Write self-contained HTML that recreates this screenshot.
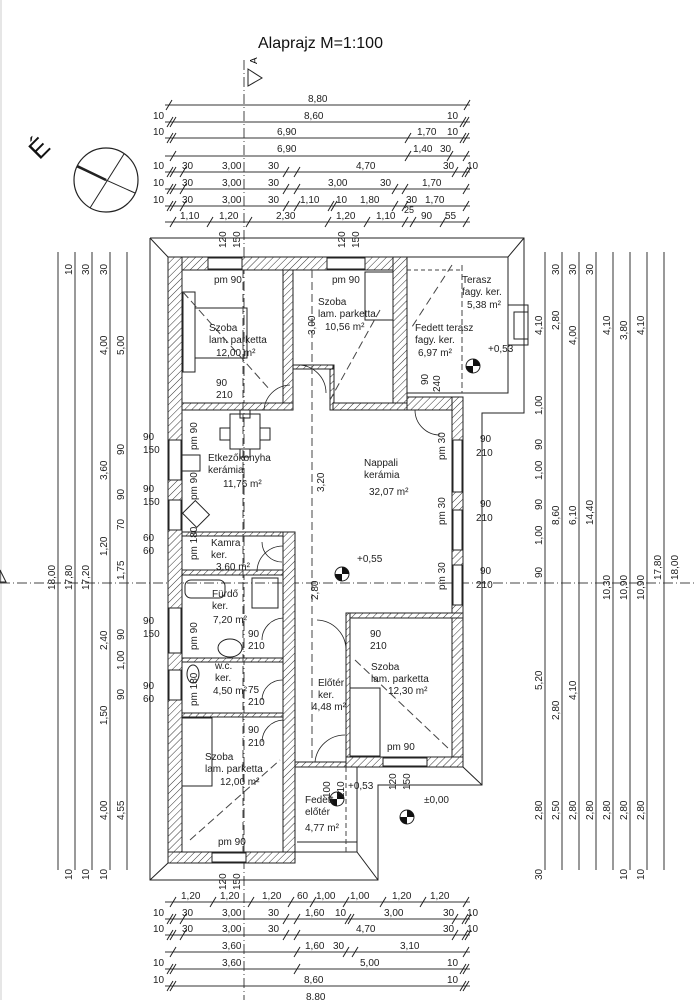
<!DOCTYPE html>
<html><head><meta charset="utf-8">
<style>
html,body{margin:0;padding:0;background:#fff;}
svg{display:block;font-family:"Liberation Sans",sans-serif;}
.d{font-size:10px;fill:#222;}
.r{font-size:10px;fill:#222;}
</style></head><body>
<svg width="696" height="1000" viewBox="0 0 696 1000" xmlns="http://www.w3.org/2000/svg">
<defs>
<pattern id="h" patternUnits="userSpaceOnUse" width="5" height="5" patternTransform="rotate(45)">
<rect width="5" height="5" fill="#fff"/><line x1="0" y1="0" x2="0" y2="5" stroke="#333" stroke-width="1"/>
</pattern>
</defs>
<rect x="0" y="0" width="696" height="1000" fill="#fff"/>
<line x1="1" y1="0" x2="1" y2="1000" stroke="#ccc"/>
<text x="258" y="48" font-size="16" fill="#111">Alaprajz  M=1:100</text>
<!-- section mark -->
<line x1="244" y1="60" x2="244" y2="1000" stroke="#444" stroke-width="1" stroke-dasharray="10,3,1,3"/>
<polygon points="248,69 262,78 248,86" fill="none" stroke="#222"/>
<text font-size="10" transform="translate(257,64) rotate(-90)">A</text>
<line x1="0" y1="583" x2="696" y2="583" stroke="#444" stroke-dasharray="10,3,1,3"/>
<polygon points="0,570 6,582 0,582" fill="none" stroke="#222"/>
<!-- compass -->
<circle cx="106" cy="180" r="32" fill="none" stroke="#222" stroke-width="1.2"/>
<line x1="77" y1="167" x2="135" y2="193" stroke="#222" stroke-width="1"/>
<line x1="77" y1="166" x2="106" y2="180" stroke="#222" stroke-width="2.5"/>
<line x1="124" y1="154" x2="90" y2="208" stroke="#222"/>
<text x="30" y="152" font-size="26" fill="#111" transform="rotate(-45 45 145)">É</text>

<!-- roof outline -->
<polyline points="150,238 524,238 524,413 482,413 482,785 378,785 378,880 150,880 150,238" fill="none" stroke="#222" stroke-width="1"/>
<line x1="150" y1="238" x2="168" y2="257" stroke="#222"/>
<line x1="150" y1="880" x2="168" y2="863" stroke="#222"/>
<line x1="524" y1="238" x2="508" y2="257" stroke="#222"/>
<line x1="482" y1="785" x2="463" y2="767" stroke="#222"/>
<line x1="378" y1="880" x2="357" y2="852" stroke="#222"/>

<!-- terrace -->
<rect x="407" y="257" width="101" height="136" fill="none" stroke="#222"/>
<line x1="407" y1="270" x2="460" y2="270" stroke="#444" stroke-dasharray="4,3"/>
<rect x="508" y="305" width="20" height="40" fill="none" stroke="#222"/>
<rect x="514" y="312" width="14" height="27" fill="none" stroke="#222"/>
<line x1="462" y1="265" x2="462" y2="393" stroke="#444" stroke-dasharray="6,3"/>
<line x1="452" y1="265" x2="410" y2="330" stroke="#444" stroke-dasharray="8,5"/>
<!-- fedett előtér -->
<rect x="295" y="767" width="62" height="85" fill="none" stroke="#222"/>
<line x1="297" y1="842" x2="357" y2="842" stroke="#222"/>
<line x1="346" y1="767" x2="346" y2="852" stroke="#444" stroke-dasharray="5,3"/>

<!-- walls -->
<g fill="url(#h)" stroke="#222" stroke-width="1">
<rect x="168" y="257" width="239" height="13"/>
<rect x="168" y="257" width="14" height="606"/>
<rect x="283" y="270" width="10" height="133"/>
<rect x="393" y="257" width="14" height="146"/>
<rect x="182" y="403" width="111" height="7"/>
<rect x="330" y="365" width="4" height="45"/>
<rect x="333" y="403" width="74" height="7"/>
<rect x="407" y="397" width="56" height="13"/>
<rect x="452" y="397" width="11" height="370"/>
<rect x="182" y="532" width="111" height="4"/>
<rect x="182" y="570" width="111" height="5"/>
<rect x="283" y="532" width="12" height="331"/>
<rect x="182" y="658" width="101" height="4"/>
<rect x="182" y="713" width="101" height="4"/>
<rect x="168" y="852" width="127" height="11"/>
<rect x="346" y="613" width="117" height="5"/>
<rect x="346" y="613" width="4" height="154"/>
<rect x="346" y="757" width="117" height="10"/>
<rect x="295" y="762" width="51" height="5"/>
<rect x="293" y="365" width="40" height="4"/>
</g>
<!-- window openings (white gaps) -->
<g fill="#fff" stroke="#222">
<rect x="208" y="258" width="34" height="11"/>
<rect x="327" y="258" width="38" height="11"/>
<rect x="453" y="440" width="9" height="52"/>
<rect x="453" y="510" width="9" height="40"/>
<rect x="453" y="565" width="9" height="40"/>
<rect x="169" y="440" width="12" height="40"/>
<rect x="169" y="500" width="12" height="30"/>
<rect x="169" y="608" width="12" height="45"/>
<rect x="169" y="670" width="12" height="30"/>
<rect x="212" y="853" width="34" height="9"/>
<rect x="383" y="758" width="44" height="8"/>
</g>

<!-- furniture -->
<g fill="none" stroke="#222" stroke-width="1">
<rect x="195" y="308" width="52" height="50"/>
<rect x="183" y="292" width="12" height="80"/>
<rect x="365" y="272" width="28" height="48"/>
<rect x="230" y="414" width="30" height="35"/>
<rect x="220" y="428" width="10" height="12"/><rect x="260" y="428" width="10" height="12"/>
<rect x="240" y="410" width="10" height="8"/><rect x="240" y="449" width="10" height="8"/>
<rect x="182" y="455" width="18" height="16"/>
<rect x="186" y="505" width="20" height="18" transform="rotate(45 196 514)"/>
<rect x="185" y="580" width="40" height="18" rx="6"/>
<rect x="252" y="578" width="26" height="30"/>
<ellipse cx="230" cy="648" rx="12" ry="9"/>
<ellipse cx="193" cy="674" rx="6" ry="9"/>
<rect x="182" y="718" width="30" height="68"/>
<rect x="350" y="688" width="30" height="68"/>
</g>
<!-- doors -->
<g fill="none" stroke="#222" stroke-width="0.8">
<path d="M264 410 A27 27 0 0 1 290 385"/>
<path d="M298 365 A28 28 0 0 1 326 393"/>
<path d="M415 410 A25 25 0 0 0 440 435"/>
<path d="M257 572 A26 26 0 0 1 283 546"/>
<path d="M262 640 A22 22 0 0 1 283 618"/>
<path d="M262 700 A20 20 0 0 1 283 680"/>
<path d="M262 742 A22 22 0 0 1 283 720"/>
<path d="M317 620 A30 30 0 0 1 346 650"/>
<path d="M315 762 A30 30 0 0 1 345 735"/>
<path d="M282 562 A20 20 0 0 1 262 542"/>
</g>
<!-- dashed axes inside -->
<g stroke="#444" stroke-dasharray="8,4" fill="none">
<line x1="243" y1="270" x2="243" y2="852"/>
<line x1="312" y1="270" x2="312" y2="760"/>
<line x1="183" y1="292" x2="270" y2="390"/>
<line x1="380" y1="310" x2="330" y2="400"/>
<line x1="355" y1="660" x2="450" y2="750"/>
<line x1="190" y1="840" x2="280" y2="760"/>
</g>
<!-- level markers -->
<g>
<circle cx="342" cy="574" r="7" fill="#fff" stroke="#222"/><path d="M342 567 A7 7 0 0 1 349 574 L342 574Z M342 581 A7 7 0 0 1 335 574 L342 574Z" fill="#111"/>
<circle cx="473" cy="366" r="7" fill="#fff" stroke="#222"/><path d="M473 359 A7 7 0 0 1 480 366 L473 366Z M473 373 A7 7 0 0 1 466 366 L473 366Z" fill="#111"/>
<circle cx="337" cy="799" r="7" fill="#fff" stroke="#222"/><path d="M337 792 A7 7 0 0 1 344 799 L337 799Z M337 806 A7 7 0 0 1 330 799 L337 799Z" fill="#111"/>
<circle cx="407" cy="817" r="7" fill="#fff" stroke="#222"/><path d="M407 810 A7 7 0 0 1 414 817 L407 817Z M407 824 A7 7 0 0 1 400 817 L407 817Z" fill="#111"/>
</g>

<!-- room labels -->
<g class="r">
<text x="214" y="283">pm 90</text><text x="332" y="283">pm 90</text>
<text x="209" y="331">Szoba</text><text x="209" y="343">lam. parketta</text><text x="216" y="356">12,00 m²</text>
<text x="318" y="305">Szoba</text><text x="318" y="317">lam. parketta</text><text x="325" y="330">10,56 m²</text>
<text x="462" y="283">Terasz</text><text x="462" y="295">fagy. ker.</text><text x="467" y="308">5,38 m²</text>
<text x="415" y="331">Fedett terasz</text><text x="415" y="343">fagy. ker.</text><text x="418" y="356">6,97 m²</text>
<text x="488" y="352">+0,53</text>
<text x="208" y="461">Etkezőkonyha</text><text x="208" y="473">kerámia</text><text x="223" y="487">11,76 m²</text>
<text x="364" y="466">Nappali</text><text x="364" y="478">kerámia</text><text x="369" y="495">32,07 m²</text>
<text x="357" y="562">+0,55</text>
<text x="211" y="546">Kamra</text><text x="211" y="558">ker.</text><text x="216" y="570">3,60 m²</text>
<text x="212" y="597">Fürdő</text><text x="212" y="609">ker.</text><text x="213" y="623">7,20 m²</text>
<text x="215" y="669">w.c.</text><text x="215" y="681">ker.</text><text x="213" y="694">4,50 m²</text>
<text x="318" y="686">Előtér</text><text x="318" y="698">ker.</text><text x="312" y="710">4,48 m²</text>
<text x="371" y="670">Szoba</text><text x="371" y="682">lam. parketta</text><text x="388" y="694">12,30 m²</text>
<text x="205" y="760">Szoba</text><text x="205" y="772">lam. parketta</text><text x="220" y="785">12,00 m²</text>
<text x="305" y="803">Fedett</text><text x="305" y="815">előtér</text><text x="305" y="831">4,77 m²</text>
<text x="348" y="789">+0,53</text><text x="424" y="803">±0,00</text>
<text x="218" y="845">pm 90</text><text x="387" y="750">pm 90</text>
<text x="216" y="386">90</text><text x="216" y="398">210</text>
<text x="480" y="442">90</text><text x="476" y="456">210</text>
<text x="480" y="507">90</text><text x="476" y="521">210</text>
<text x="480" y="574">90</text><text x="476" y="588">210</text>
<text x="248" y="637">90</text><text x="248" y="649">210</text>
<text x="248" y="693">75</text><text x="248" y="705">210</text>
<text x="248" y="733">90</text><text x="248" y="746">210</text>
<text x="370" y="637">90</text><text x="370" y="649">210</text>
<text x="143" y="440">90</text><text x="143" y="453">150</text>
<text x="143" y="492">90</text><text x="143" y="505">150</text>
<text x="143" y="541">60</text><text x="143" y="554">60</text>
<text x="143" y="624">90</text><text x="143" y="637">150</text>
<text x="143" y="689">90</text><text x="143" y="702">60</text>
</g>
<g class="r">
<text transform="translate(226,248) rotate(-90)">120</text><text transform="translate(240,248) rotate(-90)">150</text>
<text transform="translate(345,248) rotate(-90)">120</text><text transform="translate(359,248) rotate(-90)">150</text>
<text transform="translate(226,890) rotate(-90)">120</text><text transform="translate(240,890) rotate(-90)">150</text>
<text transform="translate(396,790) rotate(-90)">120</text><text transform="translate(410,790) rotate(-90)">150</text>
<text transform="translate(197,450) rotate(-90)">pm 90</text>
<text transform="translate(197,500) rotate(-90)">pm 90</text>
<text transform="translate(197,560) rotate(-90)">pm 180</text>
<text transform="translate(197,650) rotate(-90)">pm 90</text>
<text transform="translate(197,706) rotate(-90)">pm 180</text>
<text transform="translate(445,460) rotate(-90)">pm 30</text>
<text transform="translate(445,525) rotate(-90)">pm 30</text>
<text transform="translate(445,590) rotate(-90)">pm 30</text>
<text transform="translate(315,335) rotate(-90)">3,00</text>
<text transform="translate(318,600) rotate(-90)">2,80</text>
<text transform="translate(324,492) rotate(-90)">3,20</text>
<text transform="translate(428,385) rotate(-90)">90</text><text transform="translate(440,392) rotate(-90)">240</text>
<text transform="translate(330,798) rotate(-90)">100</text><text transform="translate(344,798) rotate(-90)">210</text>
</g>

<!-- dimension lines -->
<g stroke="#333" stroke-width="1">
<line x1="165" y1="105" x2="470" y2="105"/>
<line x1="165" y1="122" x2="470" y2="122"/>
<line x1="165" y1="138" x2="470" y2="138"/>
<line x1="165" y1="156" x2="470" y2="156"/>
<line x1="165" y1="172" x2="470" y2="172"/>
<line x1="165" y1="189" x2="470" y2="189"/>
<line x1="165" y1="206" x2="470" y2="206"/>
<line x1="165" y1="222" x2="470" y2="222"/>
<line x1="165" y1="902" x2="470" y2="902"/>
<line x1="165" y1="919" x2="470" y2="919"/>
<line x1="165" y1="935" x2="470" y2="935"/>
<line x1="165" y1="952" x2="470" y2="952"/>
<line x1="165" y1="969" x2="470" y2="969"/>
<line x1="165" y1="986" x2="470" y2="986"/>
<line x1="58" y1="252" x2="58" y2="870"/>
<line x1="75" y1="252" x2="75" y2="870"/>
<line x1="92" y1="252" x2="92" y2="870"/>
<line x1="110" y1="252" x2="110" y2="870"/>
<line x1="127" y1="252" x2="127" y2="870"/>
<line x1="545" y1="252" x2="545" y2="870"/>
<line x1="562" y1="252" x2="562" y2="870"/>
<line x1="579" y1="252" x2="579" y2="870"/>
<line x1="596" y1="252" x2="596" y2="870"/>
<line x1="613" y1="252" x2="613" y2="870"/>
<line x1="630" y1="252" x2="630" y2="870"/>
<line x1="647" y1="252" x2="647" y2="870"/>
<line x1="664" y1="252" x2="664" y2="870"/>
</g>
<!-- ticks -->
<g stroke="#222" stroke-width="1">
<path d="M166 110L172 100 M464 110L470 100 M167 127L173 117 M170 127L176 117 M460 127L466 117 M463 127L469 117 M167 143L173 133 M170 143L176 133 M460 143L466 133 M463 143L469 133 M405 143L411 133 M170 161L176 151 M405 161L411 151 M447 161L453 151 M463 161L469 151"/>
<path d="M167 177L173 167 M170 177L176 167 M180 177L186 167 M283 177L289 167 M294 177L300 167 M452 177L458 167 M462 177L468 167 M465 177L471 167"/>
<path d="M167 194L173 184 M170 194L176 184 M180 194L186 184 M283 194L289 184 M294 194L300 184 M392 194L398 184 M402 194L408 184 M463 194L469 184"/>
<path d="M167 211L173 201 M170 211L176 201 M180 211L186 201 M283 211L289 201 M294 211L300 201 M328 211L334 201 M331 211L337 201 M392 211L398 201 M402 211L408 201 M463 211L469 201"/>
<path d="M170 227L176 217 M207 227L213 217 M246 227L252 217 M325 227L331 217 M364 227L370 217 M402 227L408 217 M410 227L416 217 M440 227L446 217 M463 227L469 217"/>
<path d="M170 907L176 897 M210 907L216 897 M248 907L254 897 M288 907L294 897 M310 907L316 897 M343 907L349 897 M380 907L386 897 M420 907L426 897 M463 907L469 897"/>
<path d="M167 924L173 914 M170 924L176 914 M180 924L186 914 M283 924L289 914 M294 924L300 914 M345 924L351 914 M348 924L354 914 M452 924L458 914 M462 924L468 914 M465 924L471 914"/>
<path d="M167 940L173 930 M170 940L176 930 M180 940L186 930 M283 940L289 930 M294 940L300 930 M452 940L458 930 M462 940L468 930 M465 940L471 930"/>
<path d="M170 957L176 947 M294 957L300 947 M343 957L349 947 M352 957L358 947 M463 957L469 947 M167 974L173 964 M170 974L176 964 M294 974L300 964 M460 974L466 964 M463 974L469 964 M167 991L173 981 M170 991L176 981 M460 991L466 981 M463 991L469 981"/>
</g>
<g class="d">
<text x="308" y="102">8,80</text>
<text x="304" y="119">8,60</text><text x="153" y="119">10</text><text x="447" y="119">10</text>
<text x="277" y="135">6,90</text><text x="153" y="135">10</text><text x="417" y="135">1,70</text><text x="447" y="135">10</text>
<text x="277" y="152">6,90</text><text x="413" y="152">1,40</text><text x="440" y="152">30</text>
<text x="153" y="169">10</text><text x="182" y="169">30</text><text x="222" y="169">3,00</text><text x="268" y="169">30</text><text x="356" y="169">4,70</text><text x="443" y="169">30</text><text x="467" y="169">10</text>
<text x="153" y="186">10</text><text x="182" y="186">30</text><text x="222" y="186">3,00</text><text x="268" y="186">30</text><text x="328" y="186">3,00</text><text x="380" y="186">30</text><text x="422" y="186">1,70</text>
<text x="153" y="203">10</text><text x="182" y="203">30</text><text x="222" y="203">3,00</text><text x="268" y="203">30</text><text x="300" y="203">1,10</text><text x="336" y="203">10</text><text x="360" y="203">1,80</text><text x="406" y="203">30</text><text x="425" y="203">1,70</text><text x="404" y="213" font-size="9">25</text>
<text x="180" y="219">1,10</text><text x="219" y="219">1,20</text><text x="276" y="219">2,30</text><text x="336" y="219">1,20</text><text x="376" y="219">1,10</text><text x="421" y="219">90</text><text x="445" y="219">55</text>
<text x="181" y="899">1,20</text><text x="220" y="899">1,20</text><text x="262" y="899">1,20</text><text x="297" y="899">60</text><text x="316" y="899">1,00</text><text x="350" y="899">1,00</text><text x="392" y="899">1,20</text><text x="430" y="899">1,20</text>
<text x="153" y="916">10</text><text x="182" y="916">30</text><text x="222" y="916">3,00</text><text x="268" y="916">30</text><text x="305" y="916">1,60</text><text x="335" y="916">10</text><text x="384" y="916">3,00</text><text x="443" y="916">30</text><text x="467" y="916">10</text>
<text x="153" y="932">10</text><text x="182" y="932">30</text><text x="222" y="932">3,00</text><text x="268" y="932">30</text><text x="356" y="932">4,70</text><text x="443" y="932">30</text><text x="467" y="932">10</text>
<text x="222" y="949">3,60</text><text x="305" y="949">1,60</text><text x="333" y="949">30</text><text x="400" y="949">3,10</text>
<text x="153" y="966">10</text><text x="222" y="966">3,60</text><text x="360" y="966">5,00</text><text x="447" y="966">10</text>
<text x="153" y="983">10</text><text x="304" y="983">8,60</text><text x="447" y="983">10</text>
<text x="306" y="1000">8,80</text>
</g>
<g class="d">
<text transform="translate(55,590) rotate(-90)">18,00</text>
<text transform="translate(72,590) rotate(-90)">17,80</text>
<text transform="translate(89,590) rotate(-90)">17,20</text>
<text transform="translate(107,355) rotate(-90)">4,00</text>
<text transform="translate(124,355) rotate(-90)">5,00</text>
<text transform="translate(107,480) rotate(-90)">3,60</text>
<text transform="translate(107,556) rotate(-90)">1,20</text>
<text transform="translate(107,650) rotate(-90)">2,40</text>
<text transform="translate(107,725) rotate(-90)">1,50</text>
<text transform="translate(107,820) rotate(-90)">4,00</text>
<text transform="translate(124,820) rotate(-90)">4,55</text>
<text transform="translate(124,580) rotate(-90)">1,75</text>
<text transform="translate(124,455) rotate(-90)">90</text>
<text transform="translate(124,500) rotate(-90)">90</text>
<text transform="translate(124,530) rotate(-90)">70</text>
<text transform="translate(124,640) rotate(-90)">90</text>
<text transform="translate(124,670) rotate(-90)">1,00</text>
<text transform="translate(124,700) rotate(-90)">90</text>
<text transform="translate(72,275) rotate(-90)">10</text><text transform="translate(89,275) rotate(-90)">30</text><text transform="translate(107,275) rotate(-90)">30</text>
<text transform="translate(72,880) rotate(-90)">10</text><text transform="translate(89,880) rotate(-90)">10</text><text transform="translate(107,880) rotate(-90)">10</text>
</g>
<g class="d">
<text transform="translate(542,335) rotate(-90)">4,10</text>
<text transform="translate(559,330) rotate(-90)">2,80</text>
<text transform="translate(576,345) rotate(-90)">4,00</text>
<text transform="translate(610,335) rotate(-90)">4,10</text>
<text transform="translate(627,340) rotate(-90)">3,80</text>
<text transform="translate(644,335) rotate(-90)">4,10</text>
<text transform="translate(542,415) rotate(-90)">1,00</text>
<text transform="translate(542,450) rotate(-90)">90</text>
<text transform="translate(542,480) rotate(-90)">1,00</text>
<text transform="translate(542,510) rotate(-90)">90</text>
<text transform="translate(542,545) rotate(-90)">1,00</text>
<text transform="translate(542,578) rotate(-90)">90</text>
<text transform="translate(559,525) rotate(-90)">8,60</text>
<text transform="translate(576,525) rotate(-90)">6,10</text>
<text transform="translate(593,525) rotate(-90)">14,40</text>
<text transform="translate(610,600) rotate(-90)">10,30</text>
<text transform="translate(627,600) rotate(-90)">10,90</text>
<text transform="translate(644,600) rotate(-90)">10,90</text>
<text transform="translate(661,580) rotate(-90)">17,80</text>
<text transform="translate(678,580) rotate(-90)">18,00</text>
<text transform="translate(542,690) rotate(-90)">5,20</text>
<text transform="translate(559,720) rotate(-90)">2,80</text>
<text transform="translate(576,700) rotate(-90)">4,10</text>
<text transform="translate(542,820) rotate(-90)">2,80</text>
<text transform="translate(559,820) rotate(-90)">2,50</text>
<text transform="translate(576,820) rotate(-90)">2,80</text>
<text transform="translate(593,820) rotate(-90)">2,80</text>
<text transform="translate(610,820) rotate(-90)">2,80</text>
<text transform="translate(627,820) rotate(-90)">2,80</text>
<text transform="translate(644,820) rotate(-90)">2,80</text>
<text transform="translate(559,275) rotate(-90)">30</text><text transform="translate(576,275) rotate(-90)">30</text><text transform="translate(593,275) rotate(-90)">30</text>
<text transform="translate(542,880) rotate(-90)">30</text><text transform="translate(627,880) rotate(-90)">10</text><text transform="translate(644,880) rotate(-90)">10</text>
</g>
</svg>
</body></html>
